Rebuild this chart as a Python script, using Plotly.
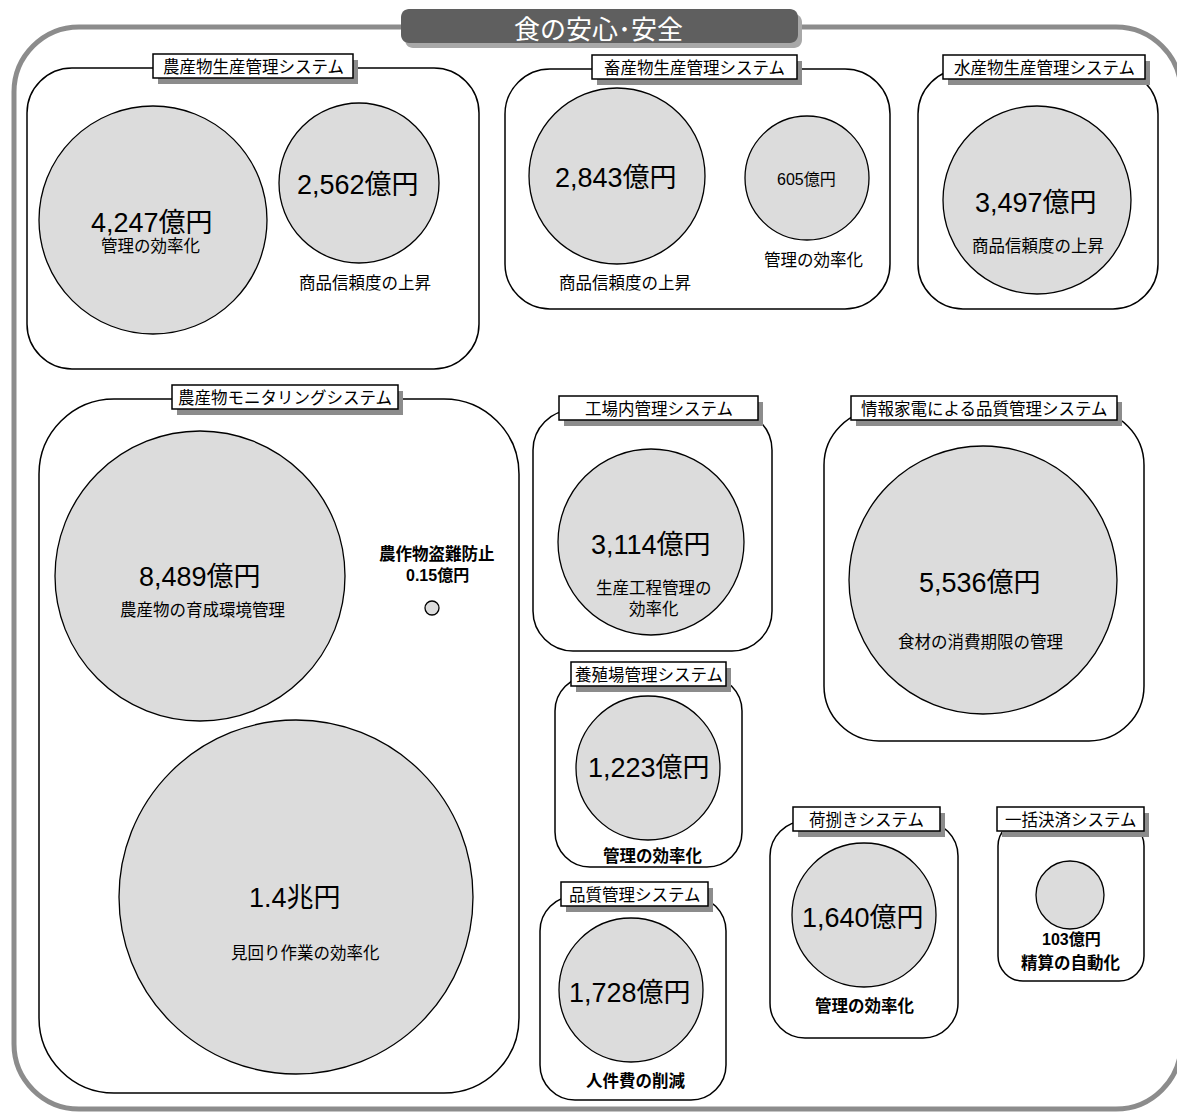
import plotly.graph_objects as go

# システム名（枠のラベル）
systems = [
    "農産物生産管理システム", "畜産物生産管理システム", "水産物生産管理システム",
    "農産物モニタリングシステム", "工場内管理システム", "情報家電による品質管理システム",
    "養殖場管理システム", "品質管理システム", "荷捌きシステム", "一括決済システム",
]

# 効果ごとの市場規模（億円）
amounts = [4247, 2562, 2843, 605, 3497, 8489, 0.15, 14000, 3114, 5536, 1223, 1728, 1640, 103]
effects = [
    "管理の効率化", "商品信頼度の上昇", "商品信頼度の上昇", "管理の効率化", "商品信頼度の上昇",
    "農産物の育成環境管理", "農作物盗難防止", "見回り作業の効率化", "生産工程管理の<br>効率化",
    "食材の消費期限の管理", "管理の効率化", "人件費の削減", "管理の効率化", "精算の自動化",
]

TITLE = "食の安心･安全"

# 枠の配置 (x0, y0, x1, y1, 角丸, ラベル x0, ラベル x1)
box_layout = [
    (27, 68, 479, 369, 45, 153, 353),
    (505, 69, 890, 309, 45, 592, 797),
    (918, 69, 1158, 309, 45, 943, 1145),
    (39, 399, 519, 1093, 75, 172, 398),
    (533, 410, 772, 651, 40, 559, 758),
    (824, 410, 1144, 741, 55, 851, 1117),
    (555, 676, 742, 867, 35, 571, 726),
    (540, 896, 726, 1100, 35, 561, 708),
    (770, 821, 958, 1038, 35, 793, 940),
    (998, 821, 1144, 981, 25, 997, 1144),
]

# 円の配置 (cx, cy, r, 金額x, 金額y, 金額サイズ, 効果x, 効果y, 太字)
circle_layout = [
    (153, 220, 114, 152, 223, 27, 150, 246, False),
    (359, 183, 80, 358, 185, 27, 365, 283, False),
    (617, 176, 88, 616, 178, 27, 625, 283, False),
    (807, 178, 62, 806, 179, 16, 813, 260, False),
    (1037, 200, 94, 1036, 203, 27, 1038, 246, False),
    (200, 576, 145, 200, 577, 27, 202, 610, False),
    (432, 608, 7, 437, 575, 16, 437, 554, True),
    (296, 897, 177, 295, 898, 27, 305, 953, False),
    (651, 542, 93, 651, 545, 27, 654, 598, False),
    (983, 580, 134, 980, 583, 27, 980, 642, False),
    (648, 768, 72, 649, 768, 27, 653, 855, True),
    (631, 990, 72, 630, 993, 27, 636, 1081, True),
    (864, 915, 72, 863, 918, 27, 865, 1005, True),
    (1070, 895, 34, 1071, 939, 16, 1071, 962, True),
]

FONT = "Liberation Sans, Noto Sans CJK JP, sans-serif"
CJK = "Noto Sans CJK JP, sans-serif"
W, H = 1185, 1113
OFF = 8  # ページ余白の分だけ座標をずらす


def fmt(v):
    if v >= 10000:
        return f"{v / 10000:g}兆円"
    if v < 1:
        return f"{v:g}億円"
    return f"{v:,}億円"


def rrect(x0, y0, x1, y1, r):
    k = r * 0.45
    return (f"M{x0 + r},{y0} L{x1 - r},{y0} C{x1 - k},{y0} {x1},{y0 + k} {x1},{y0 + r} "
            f"L{x1},{y1 - r} C{x1},{y1 - k} {x1 - k},{y1} {x1 - r},{y1} "
            f"L{x0 + r},{y1} C{x0 + k},{y1} {x0},{y1 - k} {x0},{y1 - r} "
            f"L{x0},{y0 + r} C{x0},{y0 + k} {x0 + k},{y0} {x0 + r},{y0} Z")


shapes = []
annotations = []

# 外枠とタイトル
shapes.append(dict(type="path", path=rrect(14, 27, 1181, 1109, 65),
                   line=dict(color="#8c8c8c", width=5), fillcolor="rgba(0,0,0,0)"))
shapes.append(dict(type="path", path=rrect(405, 14, 802, 48, 8),
                   line=dict(width=0), fillcolor="#a8a8a8"))
shapes.append(dict(type="path", path=rrect(401, 9, 798, 43, 8),
                   line=dict(width=0), fillcolor="#5f5f5f"))
annotations.append(dict(x=598, y=27, text=TITLE, showarrow=False,
                        font=dict(family=CJK, size=26, color="white")))

# 各システムの枠
for name, (x0, y0, x1, y1, r, lx0, lx1) in zip(systems, box_layout):
    shapes.append(dict(type="path", path=rrect(x0, y0, x1, y1, r),
                       line=dict(color="black", width=1.5), fillcolor="rgba(0,0,0,0)"))
    ly0, ly1 = y0 - 14, y0 + 10
    shapes.append(dict(type="rect", x0=lx0 + 5, y0=ly0 + 6, x1=lx1 + 5, y1=ly1 + 6,
                       line=dict(width=0), fillcolor="#8c8c8c"))
    shapes.append(dict(type="rect", x0=lx0, y0=ly0, x1=lx1, y1=ly1,
                       line=dict(color="black", width=1.5), fillcolor="white"))
    annotations.append(dict(x=(lx0 + lx1) / 2, y=(ly0 + ly1) / 2, text=name, showarrow=False,
                            font=dict(family=CJK, size=16.5, color="black")))

# 円と金額・効果
for v, eff, (cx, cy, r, vx, vy, vs, ex, ey, bold) in zip(amounts, effects, circle_layout):
    shapes.append(dict(type="circle", x0=cx - r, y0=cy - r, x1=cx + r, y1=cy + r,
                       line=dict(color="black", width=1.3), fillcolor="#dcdcdc"))
    vt = fmt(v)
    et = eff
    if bold:
        et = "<b>" + eff + "</b>"
        if vs < 20:
            vt = "<b>" + vt + "</b>"
    annotations.append(dict(x=vx, y=vy, text=vt, showarrow=False,
                            font=dict(family=FONT, size=vs, color="black")))
    annotations.append(dict(x=ex, y=ey, text=et, showarrow=False,
                            font=dict(family=FONT, size=16.5, color="black")))

fig = go.Figure()
fig.add_trace(go.Scatter(x=[], y=[], hoverinfo="skip", showlegend=False))
fig.update_layout(
    width=W, height=H,
    margin=dict(l=0, r=0, t=0, b=0),
    paper_bgcolor="white", plot_bgcolor="white",
    xaxis=dict(range=[OFF, W + OFF], visible=False, fixedrange=True),
    yaxis=dict(range=[H + OFF, OFF], visible=False, fixedrange=True),
    shapes=shapes,
    annotations=annotations,
    showlegend=False,
)
fig.write_html("out.html")
